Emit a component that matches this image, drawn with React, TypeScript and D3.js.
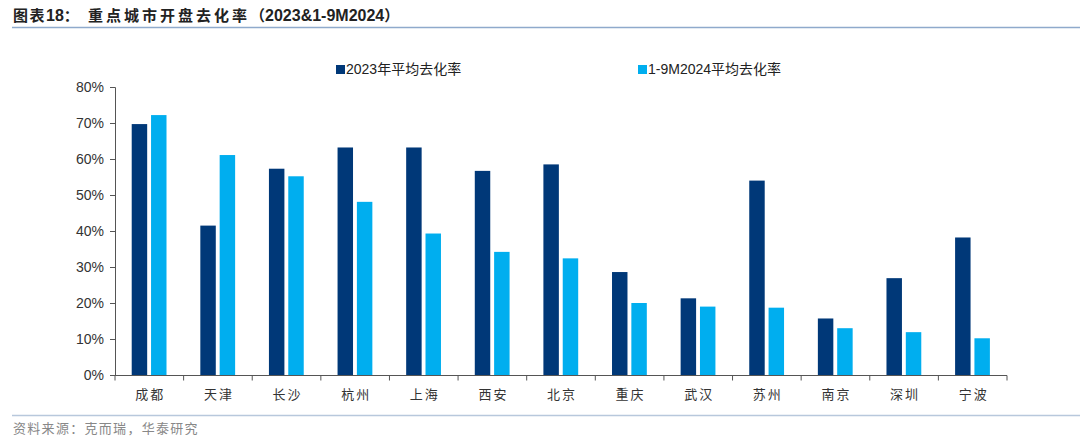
import { useEffect, useRef } from 'react'
import * as d3 from 'd3'

const cities = ['成都', '天津', '长沙', '杭州', '上海', '西安', '北京', '重庆', '武汉', '苏州', '南京', '深圳', '宁波']
const rate2023 = [69.7, 41.5, 57.3, 63.2, 63.2, 56.7, 58.5, 28.6, 21.3, 54.0, 15.7, 26.9, 38.2]
const rate2024 = [72.2, 61.1, 55.2, 48.1, 39.3, 34.2, 32.4, 20.0, 19.0, 18.7, 13.0, 11.9, 10.2]
const seriesNames = ['2023年平均去化率', '1-9M2024平均去化率']
const seriesColors = ['#003878', '#00AEEF']
const yTicks = [0, 10, 20, 30, 40, 50, 60, 70, 80]

const FONT = '"Liberation Sans", Arial, "Noto Sans CJK SC", sans-serif'
const CJK = '"Noto Sans CJK SC", sans-serif'

export default function App() {
  const ref = useRef<SVGSVGElement>(null)

  useEffect(() => {
    if (!ref.current) return
    const svg = d3.select(ref.current)
    svg.selectAll('*').remove()

    const width = 1080
    const height = 442
    svg.attr('width', width).attr('height', height)

    // title
    const title = svg.append('text')
      .attr('x', 13).attr('y', 21)
      .style('font-size', '15px')
      .style('font-weight', 'bold')
      .style('fill', '#222')
    title.append('tspan').style('font-family', CJK).style('letter-spacing', '1.5px').text('图表')
    title.append('tspan').style('font-family', FONT).style('font-size', '16px').text('18')
    title.append('tspan').style('font-family', CJK).text('：')
    title.append('tspan').attr('x', 88).style('font-family', CJK).style('letter-spacing', '3px').text('重点城市开盘去化率')
    title.append('tspan').style('font-family', CJK).text('（')
    title.append('tspan').style('font-family', FONT).style('font-size', '16px').text('2023&1-9M2024')
    title.append('tspan').style('font-family', CJK).text('）')

    svg.append('line')
      .attr('x1', 12).attr('x2', width).attr('y1', 27.5).attr('y2', 27.5)
      .attr('stroke', '#8FAACC').attr('stroke-width', 1.5)

    // footer
    svg.append('line')
      .attr('x1', 12).attr('x2', width).attr('y1', 415.5).attr('y2', 415.5)
      .attr('stroke', '#B8C8DC').attr('stroke-width', 1.5)

    svg.append('text')
      .attr('x', 13).attr('y', 433)
      .style('font-family', CJK)
      .style('font-size', '13px')
      .style('letter-spacing', '1.3px')
      .style('fill', '#888')
      .text('资料来源：克而瑞，华泰研究')

    const left = 115
    const right = 1007
    const top = 87
    const bottom = 375

    const x0 = d3.scaleBand<string>().domain(cities).range([left, right]).padding(0)
    const bw = x0.bandwidth()
    const x1 = d3.scaleBand<number>().domain([0, 1])
      .range([bw / 2 - 17.6, bw / 2 + 17.2]).paddingInner(0.2).paddingOuter(0)
    const y = d3.scaleLinear().domain([0, 80]).range([bottom, top])

    const seriesData = [rate2023, rate2024]

    // bars
    const g = svg.append('g')
    cities.forEach((c, i) => {
      seriesData.forEach((vals, s) => {
        g.append('rect')
          .attr('x', (x0(c) ?? 0) + (x1(s) ?? 0))
          .attr('y', y(vals[i]))
          .attr('width', x1.bandwidth())
          .attr('height', y(0) - y(vals[i]))
          .attr('fill', seriesColors[s])
      })
    })

    // y axis
    const yAxis = svg.append('g').attr('transform', `translate(${left},0)`)
      .call(d3.axisLeft(y).tickValues(yTicks).tickSize(5).tickFormat(d => `${d}%`))
    yAxis.select('.domain').attr('stroke', '#555')
    yAxis.selectAll('.tick line').attr('stroke', '#555')
    yAxis.selectAll('.tick text')
      .attr('x', -11)
      .style('font-family', FONT)
      .style('font-size', '14px')
      .style('fill', '#333')

    // x axis
    const xAxis = svg.append('g').attr('transform', `translate(0,${bottom})`)
    xAxis.append('line')
      .attr('x1', left).attr('x2', right).attr('y1', 0.5).attr('y2', 0.5)
      .attr('stroke', '#555')
    const boundaries = cities.map(c => x0(c) ?? 0).concat([right])
    boundaries.forEach(b => {
      xAxis.append('line')
        .attr('x1', b).attr('x2', b).attr('y1', 0.5).attr('y2', 5.5)
        .attr('stroke', '#555')
    })
    cities.forEach(c => {
      xAxis.append('text')
        .attr('x', (x0(c) ?? 0) + bw / 2 + 1)
        .attr('y', 24)
        .attr('text-anchor', 'middle')
        .style('font-family', CJK)
        .style('font-size', '13px')
        .style('letter-spacing', '2px')
        .style('fill', '#333')
        .text(c)
    })

    // legend
    const legendX = [336, 638]
    seriesNames.forEach((name, s) => {
      svg.append('rect')
        .attr('x', legendX[s]).attr('y', 65)
        .attr('width', 9).attr('height', 9)
        .attr('fill', seriesColors[s])
      svg.append('text')
        .attr('x', legendX[s] + 10).attr('y', 74)
        .style('font-family', FONT)
        .style('font-size', '14px')
        .style('fill', '#222')
        .text(name)
    })
  }, [])

  return (
    <div style={{ position: 'fixed', left: 0, top: 0 }}>
      <svg ref={ref} style={{ display: 'block', background: '#fff' }}></svg>
    </div>
  )
}
